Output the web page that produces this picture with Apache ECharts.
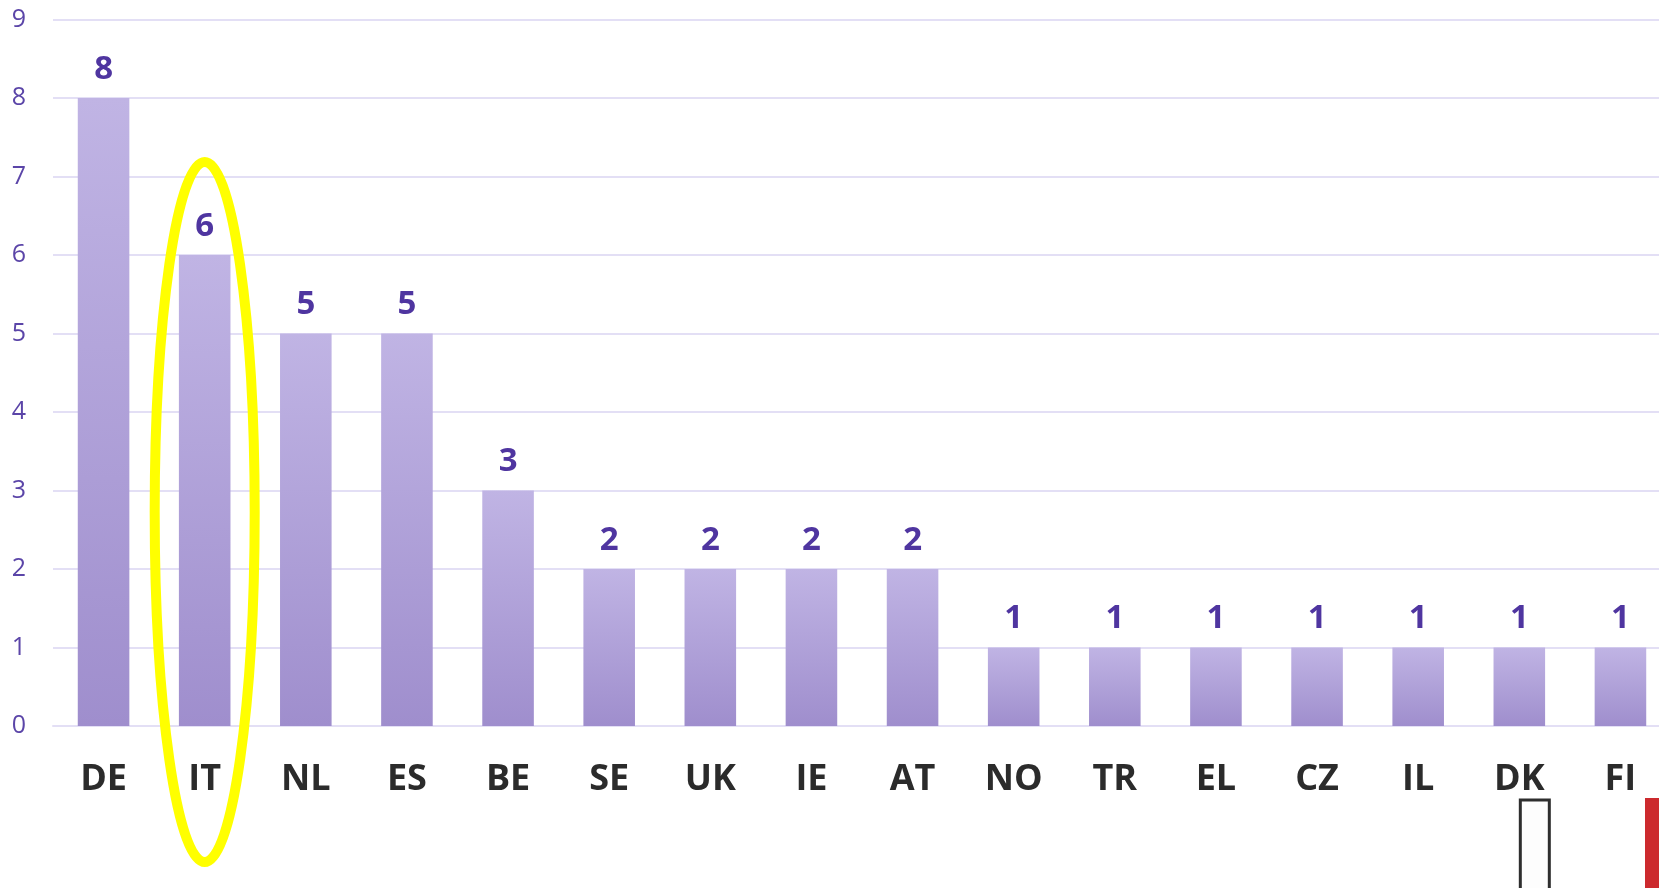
<!DOCTYPE html>
<html>
<head>
<meta charset="utf-8">
<script src="https://cdn.jsdelivr.net/npm/echarts@6/dist/echarts.min.js"></script>
<style>
html, body { margin: 0; padding: 0; background: #fff; }
#chartmain { width: 1659px; height: 888px; }
</style>
</head>
<body>
<div id="chartmain"></div>
<script>
var countries = ['DE', 'IT', 'NL', 'ES', 'BE', 'SE', 'UK', 'IE', 'AT', 'NO', 'TR', 'EL', 'CZ', 'IL', 'DK', 'FI'];
var counts = [8, 6, 5, 5, 3, 2, 2, 2, 2, 1, 1, 1, 1, 1, 1, 1];
var yTicks = [0, 1, 2, 3, 4, 5, 6, 7, 8, 9];

var myChart = echarts.init(document.getElementById('chartmain'));

var option = {
	animation: false,
	grid: {
		left: 53,
		width: 1618,
		top: 19.5,
		bottom: 162,
		containLabel: false,
		outerBoundsMode: 'none'
	},
	xAxis: {
		type: 'category',
		data: countries,
		axisLine: { show: true, lineStyle: { color: '#e3dff5', width: 2 } },
		axisTick: { show: false },
		axisLabel: {
			color: '#2b2b2b',
			fontFamily: 'Open Sans',
			fontWeight: 'bold',
			fontSize: 36,
			margin: 36
		}
	},
	yAxis: {
		type: 'value',
		min: yTicks[0],
		max: yTicks[yTicks.length - 1],
		interval: 1,
		axisLine: { show: false },
		axisTick: { show: false },
		splitLine: { lineStyle: { color: '#e3dff5', width: 2 } },
		axisLabel: {
			color: '#5b45a8',
			fontFamily: 'Open Sans',
			fontSize: 25,
			margin: 27
		}
	},
	series: [{
		type: 'bar',
		data: counts,
		barWidth: '51%',
		itemStyle: {
			color: new echarts.graphic.LinearGradient(0, 0, 0, 1, [
				{ offset: 0, color: '#c0b4e4' },
				{ offset: 1, color: '#9f8ecd' }
			])
		},
		label: {
			show: true,
			position: 'top',
			distance: 12,
			color: '#4f35a0',
			fontFamily: 'Open Sans',
			fontWeight: 'bold',
			fontSize: 33
		}
	}]
};

myChart.setOption(option);

// annotations: yellow ellipse round IT, outline box under DK, red strip at the right edge
var itX = myChart.convertToPixel({ xAxisIndex: 0 }, 'IT');
var dkX = myChart.convertToPixel({ xAxisIndex: 0 }, 'DK');
myChart.setOption({
	graphic: [
		{
			type: 'ellipse',
			shape: { cx: itX, cy: 512, rx: 50, ry: 350 },
			style: { fill: 'none', stroke: '#ffff00', lineWidth: 10 },
			z: 100
		},
		{
			type: 'rect',
			shape: { x: dkX + 1, y: 800, width: 29, height: 100 },
			style: { fill: '#fdfdfd', stroke: '#2e2e2e', lineWidth: 3 },
			z: 100
		},
		{
			type: 'rect',
			shape: { x: 1645, y: 798, width: 20, height: 100 },
			style: { fill: '#cc2a2e' },
			z: 100
		}
	]
});
</script>
</body>
</html>
